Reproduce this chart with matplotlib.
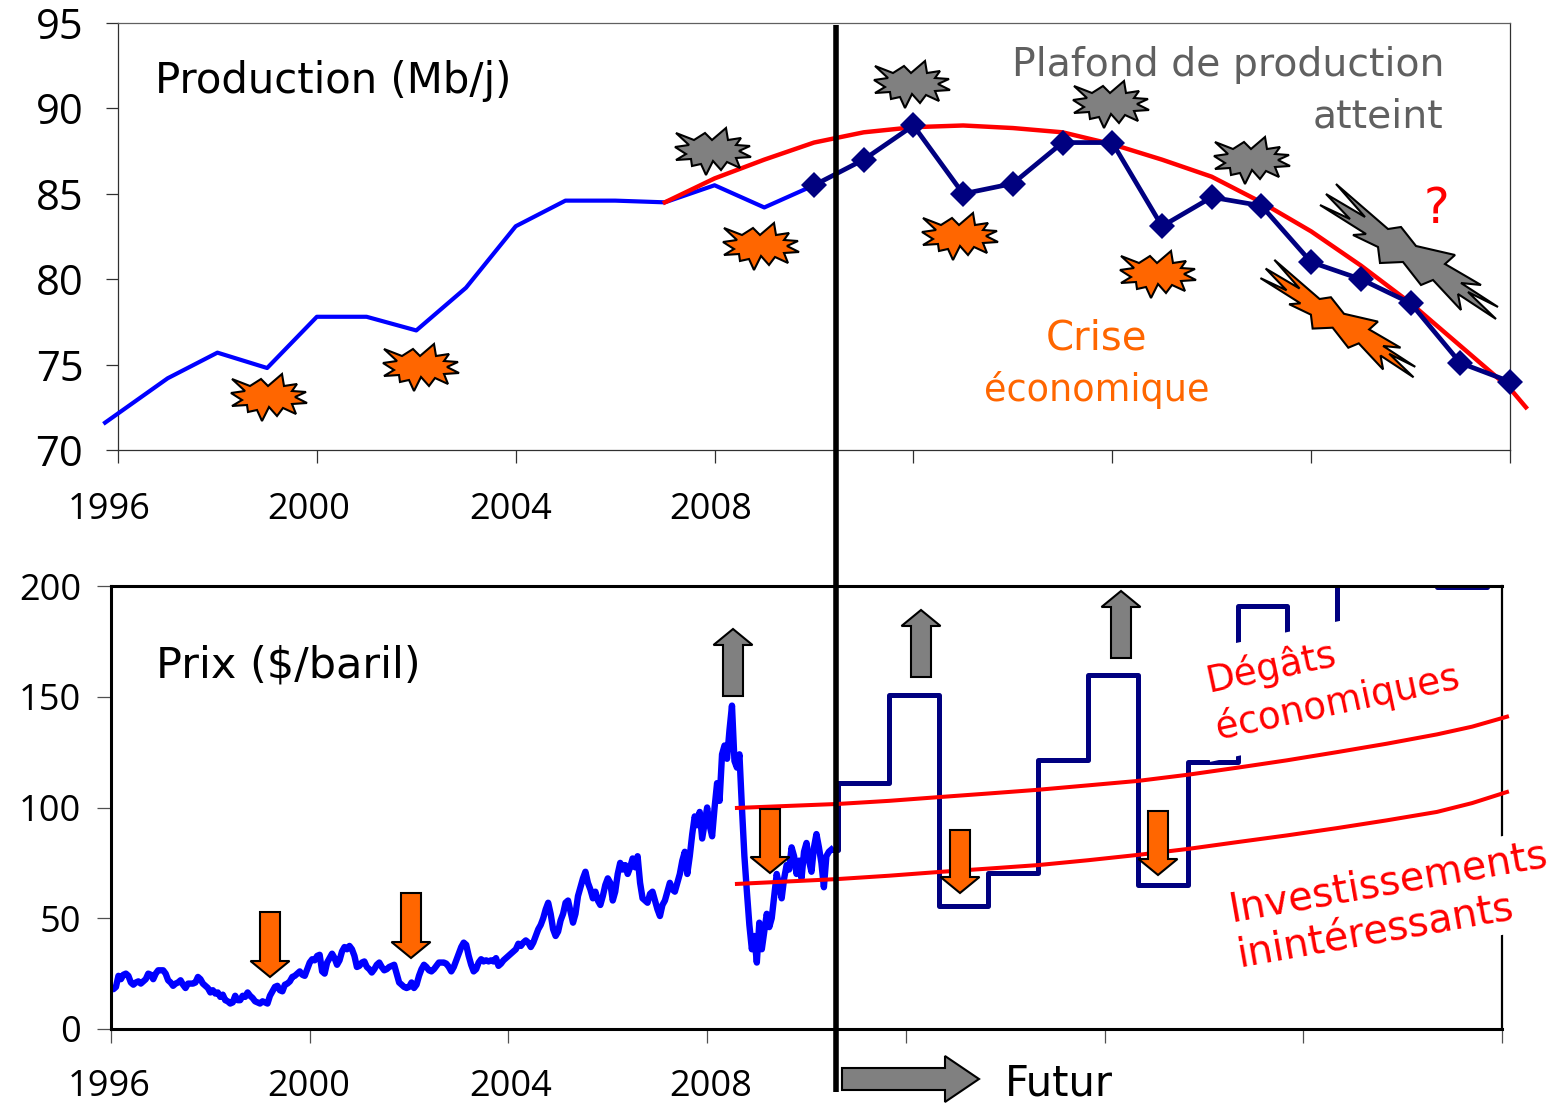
import matplotlib
matplotlib.use("Agg")
import matplotlib.pyplot as plt
from matplotlib.patches import Polygon
from matplotlib.transforms import ScaledTranslation

W, H = 1563, 1112
BLUE = "#0000ff"
NAVY = "#000080"
RED = "#ff0000"
ORANGE = "#ff6600"
GREY = "#808080"
TEXT_GREY = "#606060"
DIGITS = "Open Sans"

plt.rcParams["font.family"] = ["DejaVu Sans"]

# production, Mb/j
prod_years = [1995.74, 1997, 1998, 1999, 2000, 2001, 2002, 2003, 2004, 2005, 2006, 2007, 2008, 2009, 2010]
prod_values = [71.6, 74.2, 75.7, 74.8, 77.8, 77.8, 77.0, 79.5, 83.1, 84.6, 84.6, 84.5, 85.5, 84.2, 85.5]
fut_years = [2010, 2011, 2012, 2013, 2014, 2015, 2016, 2017, 2018, 2019, 2020, 2021, 2022, 2023, 2024]
fut_values = [85.5, 87.0, 89.0, 85.0, 85.6, 88.0, 88.0, 83.1, 84.8, 84.3, 81.0, 80.0, 78.6, 75.1, 74.0]
peak_years = [2007, 2008, 2009, 2010, 2011, 2012, 2013, 2014, 2015, 2016, 2017, 2018, 2019, 2020, 2021, 2022, 2023, 2024, 2024.32]
peak_values = [84.5, 85.9, 87.0, 88.0, 88.6, 88.9, 89.0, 88.85, 88.6, 87.9, 87.0, 86.0, 84.5, 82.8, 80.8, 78.6, 76.1, 73.6, 72.5]

# prix du baril, un releve tous les 0.05 an depuis 1996
price_values = [
    18.5, 18, 19, 24, 22.5, 24.5, 25, 24, 21, 20, 21, 21.5, 20.5, 21.5, 22.5, 25, 24.5, 22.5, 25, 26.5,
    26.5, 26.5, 25, 22, 21, 19.5, 20.5, 21, 22, 20, 18.5, 20.5, 20.5, 20.5, 21, 23.5, 22.5, 20.5, 19.5, 18.5,
    16.5, 17.5, 16, 16.5, 14.5, 15.5, 13, 12.5, 11.5, 12, 15, 13, 13, 15, 14.5, 16.5, 15, 14, 12.5, 12,
    11.5, 12.5, 12, 11.5, 15, 17, 19, 19.5, 17.5, 17, 20, 20.5, 21.5, 23.5, 24, 25, 26, 24.5, 24, 27,
    30, 31.5, 31, 33, 33.5, 26, 25, 30, 32, 34, 32, 29, 31, 35, 37, 36, 37.5, 36, 33, 28,
    28.5, 30, 30.5, 28, 27, 25.5, 27, 29, 30, 28, 26.5, 27, 28, 28.5, 29, 25, 21, 20, 19, 18.5,
    19, 21, 18.5, 20, 24, 27, 29, 28, 26.5, 26, 27, 28.5, 30, 30, 30, 29.5, 28, 26, 28, 31,
    34, 37, 39, 38, 33, 29, 26, 27, 30, 31.5, 30.5, 31, 30.5, 31, 30.5, 32, 28.5, 29.5, 31, 32,
    33, 34, 35, 36, 38.5, 37.5, 39, 40, 39, 37, 39, 42, 45, 47, 50, 54, 57, 52, 45, 42,
    44, 49, 52, 57, 58, 53, 48, 52, 60, 64, 68, 71, 66, 63, 59, 62, 58, 56, 60, 65,
    68, 66, 58, 62, 70, 75, 72, 74, 70, 73, 77, 73, 78, 66, 59, 58, 57, 61, 62, 58,
    54, 51, 56, 58, 62, 66, 63, 62, 66, 70, 76, 80, 70, 78, 88, 96, 92, 98, 86, 93,
    100, 92, 87, 100, 111, 103, 124, 128, 122, 135, 146, 121, 118, 124, 100, 78, 62, 47, 36, 42,
    30, 48, 36, 44, 52, 46, 50, 60, 70, 65, 59, 68, 74, 72, 82, 78, 70, 76, 68, 80,
    84, 76, 71, 82, 88, 82, 75, 64, 78, 80, 81,
]
price_years = [1996 + i * 0.05 for i in range(len(price_values))]

# scenario en paliers : un palier par an
step_years = [2010.5, 2010.63, 2011.66, 2012.67, 2013.65, 2014.66, 2015.67, 2016.67, 2017.68, 2018.68,
              2019.67, 2020.68, 2021.68, 2022.69, 2023.7]
step_values = [81, 111, 151, 55.5, 70.5, 121.5, 160, 65, 120.5, 191, 157, 230, 215, 199.5, 235]

limit_years = [2008.6, 2010.63, 2011.66, 2012.67, 2013.65, 2014.66, 2015.67, 2016.67, 2017.68, 2018.68,
               2019.67, 2020.68, 2021.68, 2022.69, 2023.4, 2024.1]
upper_limit = [99.8, 101.6, 103.0, 104.7, 106.3, 108.0, 110.0, 112.0, 114.8, 118.0,
               121.3, 125.0, 128.8, 133.0, 136.5, 141.0]
lower_limit = [65.5, 67.7, 69.2, 70.9, 72.4, 74.0, 76.2, 78.6, 81.3, 84.4,
               87.4, 90.7, 94.2, 98.0, 102.0, 107.0]

x_ticks = [1996, 2000, 2004, 2008, 2012, 2016, 2020, 2024]
x_labels = ["1996", "2000", "2004", "2008", "", "", "", ""]
top_label_shift = [-9, -8, -5, -4, 0, 0, 0, 0]
bot_label_shift = [-2, -1, 2, 4, 0, 0, 0, 0]

# contour des explosions, en pixels autour de leur centre
small_burst = [(-37, -19), (-19, -12), (-8, -19), (-1, -12), (13, -24), (15, -12), (28, -14), (23, -7),
               (37, -6), (26, -1), (38, 5), (23, 6), (27, 16), (14, 10), (8, 18), (0, 9),
               (-7, 23), (-12, 12), (-21, 14), (-22, 7), (-37, 8), (-27, 2), (-38, -5), (-24, -7)]
big_burst = [(-20, -23), (-72, -68), (-43, -35), (-82, -58), (-58, -33), (-88, -47), (-42, -18), (-55, -17),
             (-30, -5), (-28, 11), (-5, 10), (13, 33), (25, 28), (53, 58), (50, 42), (88, 67),
             (60, 40), (90, 55), (53, 31), (73, 33), (37, 12), (47, 3), (8, -6), (-7, -25)]
grey_small = [(713, 152), (912, 85), (1111, 105), (1252, 161)]
orange_small = [(269, 398), (421, 368), (761, 247), (960, 237), (1158, 275)]

# fleches verticales : centre, queue, pointe
down_arrows = [(270, 912, 977), (411, 893, 958), (770, 809, 873), (960, 830, 893), (1158, 811, 875)]
up_arrows = [(733, 696, 629), (921, 677, 610), (1121, 658, 591)]


def pix_axes(left, right, top, bottom):
    return fig.add_axes([left / W, 1 - bottom / H, (right - left) / W, (bottom - top) / H])


def burst(x, y, shape, color, scale=1.0):
    pts = [(x + dx * scale, y + dy * scale) for dx, dy in shape]
    over.add_patch(Polygon(pts, closed=True, fc=color, ec="black", lw=1.5, joinstyle="miter"))


def v_arrow(x, tail, tip, color):
    sign = 1 if tip > tail else -1
    base = tip - sign * 16
    pts = [(x - 10, tail), (x + 10, tail), (x + 10, base), (x + 19.5, base), (x, tip),
           (x - 19.5, base), (x - 10, base)]
    over.add_patch(Polygon(pts, closed=True, fc=color, ec="black", lw=1.5))


def shift_labels(ax, shifts):
    for lab, dx in zip(ax.get_xticklabels(), shifts):
        lab.set_transform(lab.get_transform() + ScaledTranslation(dx / 100, 0, fig.dpi_scale_trans))


fig = plt.figure(figsize=(W / 100, H / 100), dpi=100)

# --- production ---
ax1 = pix_axes(118, 1510, 23, 450)
ax1.plot(prod_years, prod_values, color=BLUE, lw=3, clip_on=False, zorder=3)
ax1.plot(peak_years, peak_values, color=RED, lw=3.2, clip_on=False, zorder=4)
ax1.plot(fut_years, fut_values, color=NAVY, lw=3.4, marker="D", ms=13.5, mew=0, clip_on=False, zorder=5)
ax1.set_xlim(1996, 2024)
ax1.set_ylim(70, 95)
ax1.set_yticks([70, 75, 80, 85, 90, 95])
ax1.set_xticks(x_ticks)
ax1.set_xticklabels(x_labels)
ax1.tick_params(axis="both", labelsize=26, length=9, width=0.9, color="#303030", labelfontfamily=DIGITS)
ax1.tick_params(axis="y", pad=16, labelsize=30)
ax1.tick_params(axis="x", pad=21.5)
shift_labels(ax1, top_label_shift)
for s in ax1.spines.values():
    s.set_linewidth(0.9)
    s.set_color("#303030")
ax1.spines["top"].set_color("#606060")

# --- prix ---
ax2 = pix_axes(111, 1502, 586, 1029)
ax2.step(step_years + [2024], step_values + [235], where="post", color=NAVY, lw=3.6, zorder=2)
ax2.plot(price_years, price_values, color=BLUE, lw=4.6, zorder=2.2)
ax2.plot(limit_years, upper_limit, color=RED, lw=2.9, clip_on=False, zorder=4)
ax2.plot(limit_years, lower_limit, color=RED, lw=2.9, clip_on=False, zorder=4)
ax2.set_xlim(1996, 2024)
ax2.set_ylim(0, 200)
ax2.set_yticks([0, 50, 100, 150, 200])
ax2.set_xticks(x_ticks)
ax2.set_xticklabels(x_labels)
ax2.tick_params(axis="both", labelsize=26, length=10, width=0.9, color="#505050", labelfontfamily=DIGITS)
ax2.tick_params(axis="y", pad=11.5)
ax2.tick_params(axis="x", pad=19)
shift_labels(ax2, bot_label_shift)
for name in ["left", "top", "bottom"]:
    ax2.spines[name].set_linewidth(2.2)
ax2.spines["right"].set_linewidth(1.6)

# calque en pixels pour les annotations
over = fig.add_axes([0, 0, 1, 1], zorder=5)
over.set_xlim(0, W)
over.set_ylim(H, 0)
over.axis("off")

over.plot([836, 836], [25, 1092], color="black", lw=4, solid_capstyle="butt")

for x, y in grey_small:
    burst(x, y, small_burst, GREY)
for x, y in orange_small:
    burst(x, y, small_burst, ORANGE)
burst(1408, 252, big_burst, GREY)
burst(1337, 319, big_burst, ORANGE, scale=0.87)

for x, tail, tip in down_arrows:
    v_arrow(x, tail, tip, ORANGE)
for x, tail, tip in up_arrows:
    v_arrow(x, tail, tip, GREY)

over.add_patch(Polygon([(842, 1068), (945, 1068), (945, 1056), (979, 1079), (945, 1102), (945, 1090), (842, 1090)],
                       closed=True, fc=GREY, ec="black", lw=1.5))

over.text(155, 93, "Production (Mb/j)", fontsize=30.2)
over.text(156, 677, "Prix ($/baril)", fontsize=31)
over.text(1005, 1095, "Futur", fontsize=30)
over.text(1445, 76, "Plafond de production", fontsize=28.4, color=TEXT_GREY, ha="right")
over.text(1443, 127, "atteint", fontsize=28.4, color=TEXT_GREY, ha="right")
over.text(1436, 223, "?", fontsize=35, color=RED, ha="center")
over.text(1097, 350, "Crise", fontsize=29, color=ORANGE, ha="center")
over.text(1097, 401, "économique", fontsize=26.4, color=ORANGE, ha="center")

# ces deux blocs masquent les paliers et le bord droit, les courbes rouges restent devant
ax2.text(1211, 705, "Dégâts\néconomiques", transform=over.transData, fontsize=26.8, color=RED, rotation=12,
         rotation_mode="anchor", ha="left", va="center", linespacing=1.32, zorder=3, clip_on=False,
         bbox=dict(fc="white", ec="none", pad=9))
ax2.text(1233, 933, "Investissements\ninintéressants", transform=over.transData, fontsize=28.6, color=RED,
         rotation=10, rotation_mode="anchor", ha="left", va="center", linespacing=1.2, zorder=3, clip_on=False,
         bbox=dict(fc="white", ec="none", pad=4))

fig.savefig("out.png", dpi=100)
